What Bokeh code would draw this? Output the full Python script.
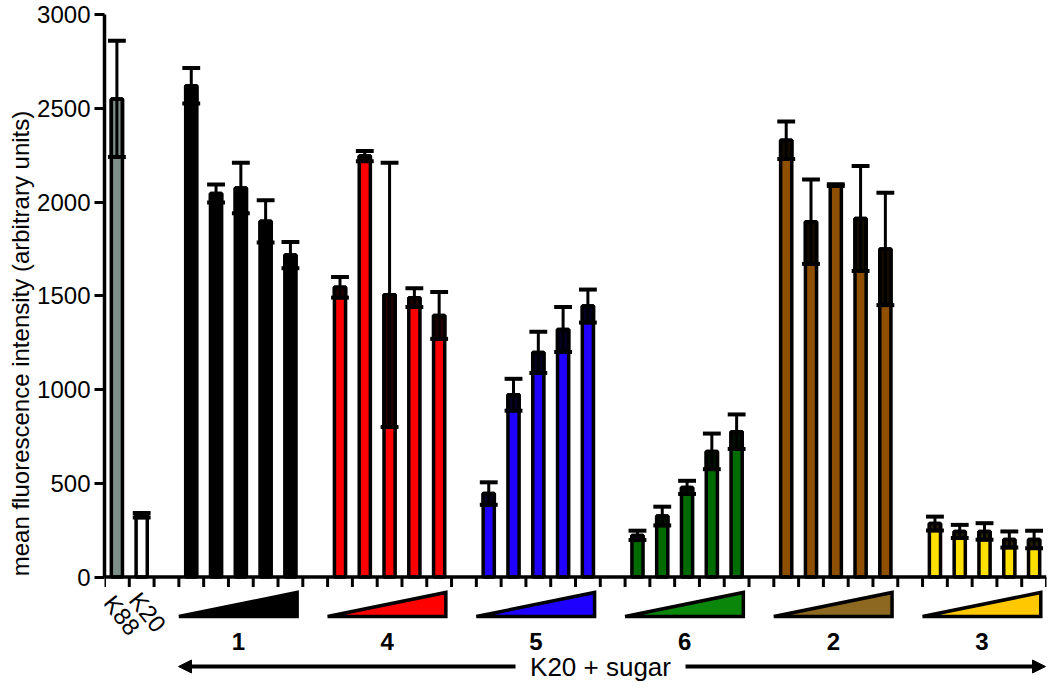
from bokeh.plotting import figure
from bokeh.models import Range1d, FixedTicker, Arrow, NormalHead, ColumnDataSource, Title
from bokeh.core.properties import value
from bokeh.embed import file_html
from bokeh.resources import INLINE

# ---------------- data ----------------
ctrl_names = ["K88", "K20"]
ctrl_means = [2550, 330]
ctrl_errs = [310, 12]
ctrl_colors = ["#7d8f89", "#ffffff"]

group_names = ["1", "4", "5", "6", "2", "3"]
means_1 = [2620, 2045, 2075, 1897, 1717]
errs_1 = [95, 48, 135, 113, 70]
means_4 = [1545, 2245, 1505, 1490, 1395]
errs_4 = [55, 27, 705, 50, 125]
means_5 = [445, 972, 1198, 1320, 1445]
errs_5 = [60, 85, 110, 120, 88]
means_6 = [222, 325, 478, 670, 775]
errs_6 = [25, 50, 35, 95, 92]
means_2 = [2330, 1895, 2090, 1912, 1750]
errs_2 = [100, 225, 5, 280, 300]
means_3 = [285, 243, 243, 200, 200]
errs_3 = [37, 35, 44, 43, 47]
group_means = [means_1, means_4, means_5, means_6, means_2, means_3]
group_errs = [errs_1, errs_4, errs_5, errs_6, errs_2, errs_3]
bar_colors = ["#000000", "#ff0000", "#2000ff", "#006b00", "#8e5000", "#ffe000"]
ramp_colors = ["#000000", "#ff0000", "#1e00ff", "#0a870a", "#8c6820", "#ffc800"]

y_ticks = [0, 500, 1000, 1500, 2000, 2500, 3000]
y_title = "mean fluorescence intensity (arbitrary units)"
bottom_title = "K20 + sugar"

# ---------------- layout ----------------
FONT = value("Liberation Sans")
n_slots = 38
group_start = [3, 9, 15, 21, 27, 33]
Y0 = 576.5          # screen y of value 0
Y3000 = 14.0        # screen y of value 3000
px = (Y0 - Y3000) / 3000.0
X0, X1 = 104.0, 1046.0
sx = (X1 - X0) / n_slots


def dy(screen_y):
    return -(screen_y - Y0) / px


def dx(screen_x):
    return (screen_x - X0) / sx


xs, tops, errs, fills, dark = [], [], [], [], []
for i, (m, e, c) in enumerate(zip(ctrl_means, ctrl_errs, ctrl_colors)):
    xs.append(i + 0.5); tops.append(m); errs.append(e); fills.append(c); dark.append(0.0)
for g, ms, es, c in zip(group_start, group_means, group_errs, bar_colors):
    for j, (m, e) in enumerate(zip(ms, es)):
        xs.append(g + j + 0.5); tops.append(m); errs.append(e); fills.append(c); dark.append(0.85)

src = ColumnDataSource(dict(
    x=xs, top=tops, fill=fills, dark=dark,
    lo=[t - e for t, e in zip(tops, errs)],
    hi=[t + e for t, e in zip(tops, errs)],
))

W, H = 1048, 686
p = figure(width=W, height=H, output_backend="svg", toolbar_location=None,
           x_axis_type=None,
           x_range=Range1d(0, n_slots),
           y_range=Range1d(dy(H), dy(0)),
           min_border_left=int(X0), min_border_right=int(W - X1),
           min_border_top=0, min_border_bottom=0)
p.outline_line_color = None
p.grid.visible = False
p.background_fill_color = "white"

ax = p.yaxis[0]
ax.ticker = FixedTicker(ticks=y_ticks)
ax.bounds = (0, 3000)
ax.axis_line_width = 3.5
ax.major_tick_line_width = 3
ax.major_tick_out = 10
ax.major_tick_in = 0
ax.minor_tick_line_color = None
ax.major_label_standoff = 4
ax.major_label_text_font = "Liberation Sans"
ax.major_label_text_font_size = "24px"
ax.major_label_text_color = "black"

# y axis title as a left-side title, shifted up to sit over the 0..3000 extent
p.add_layout(Title(text=y_title, align="center", offset=98,
                   standoff=2, text_font="Liberation Sans", text_font_size="24px",
                   text_font_style="normal", text_color="black"), "left")

bw = 0.45
# bars
p.vbar(x="x", top="top", bottom=0, width=bw, fill_color="fill",
       line_color="black", line_width=3.5, source=src)
# whiskers
p.segment(x0="x", y0="lo", x1="x", y1="hi", line_color="black", line_width=3, source=src)
# error region darkened inside bar
p.vbar(x="x", top="top", bottom="lo", width=bw, fill_color="black",
       fill_alpha="dark", line_color="black", line_width=3.5, source=src)
# caps
cw = 0.36
p.segment(x0=[x - cw for x in xs], y0=src.data["hi"], x1=[x + cw for x in xs],
          y1=src.data["hi"], line_color="black", line_width=4)
p.segment(x0=[x - cw for x in xs], y0=src.data["lo"], x1=[x + cw for x in xs],
          y1=src.data["lo"], line_color="black", line_width=4)

# x axis line and ticks
tick_len = 10 / px
p.segment(x0=[0], y0=[0], x1=[n_slots], y1=[0], line_color="black", line_width=3.5)
p.segment(x0=list(range(n_slots + 1)), y0=[0] * (n_slots + 1),
          x1=list(range(n_slots + 1)), y1=[-tick_len] * (n_slots + 1),
          line_color="black", line_width=3)

# concentration ramps
ramp_len = 4.77
y_bot = dy(616)
y_top = dy(592)
p.patches(xs=[[g, g + ramp_len, g + ramp_len] for g in group_start],
          ys=[[y_bot, y_bot, y_top] for _ in group_start],
          fill_color=ramp_colors, line_color="black", line_width=3.5, line_join="miter")

# group labels
p.text(x=[g + 2.4 for g in group_start], y=[dy(641)] * len(group_start),
       text=group_names, text_font=FONT, text_font_size="24px", text_font_style="bold",
       text_align="center", text_baseline="middle", text_color="black")

# control labels (rotated)
p.text(x=[dx(108), dx(134)], y=[dy(598), dy(595)], text=ctrl_names,
       angle=-0.9, text_font=FONT, text_font_size="24px", text_align="left",
       text_baseline="middle", text_color="black")

# bottom double arrow with title
ay = dy(666)
p.text(x=[dx(600)], y=[ay], text=[bottom_title], text_font=FONT, text_font_size="26px",
       text_align="center", text_baseline="middle", text_color="black")
p.add_layout(Arrow(end=NormalHead(size=13, fill_color="black", line_color="black"),
                   x_start=dx(515), y_start=ay, x_end=dx(178), y_end=ay,
                   line_width=4, line_color="black"))
p.add_layout(Arrow(end=NormalHead(size=13, fill_color="black", line_color="black"),
                   x_start=dx(685), y_start=ay, x_end=dx(1045), y_end=ay,
                   line_width=4, line_color="black"))

open("out.html", "w").write(file_html(p, INLINE))
